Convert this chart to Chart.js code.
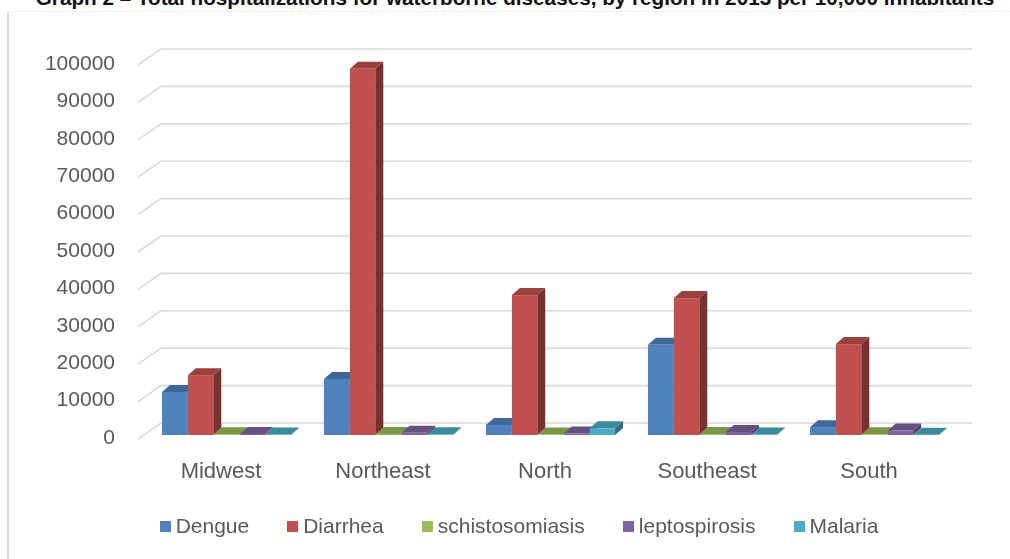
<!doctype html>
<html lang="en">
  <head>
    <meta charset="utf-8">
    <title>Hospitalizations for waterborne diseases</title>
    <style>
      * {
        margin: 0;
        padding: 0;
      }
      body {
        width: 1010px;
        height: 559px;
        overflow: hidden;
        position: relative;
        background: #fff;
        font-family: "Liberation Sans", sans-serif;
      }
      .title {
        position: absolute;
        top: -11px;
        left: 10px;
        width: 1010px;
        text-align: center;
        font-weight: bold;
        font-size: 20.7px;
        line-height: 17px;
        color: #111;
        white-space: nowrap;
      }
      #myChart {
        position: absolute;
        left: 0;
        top: 0;
      }
      .legend {
        position: absolute;
        left: 0;
        width: 1038px;
        top: 514px;
        display: flex;
        justify-content: center;
        gap: 38px;
        font-size: 21px;
        color: #595959;
      }
      .legend span.item {
        display: flex;
        align-items: center;
      }
      .legend span.box {
        display: inline-block;
        width: 11px;
        height: 11px;
        margin-right: 5px;
      }
    </style>
  </head>
  <body>
    <div class="title">Graph 2 – Total hospitalizations for waterborne diseases, by region in 2013 per 10,000 inhabitants</div>
    <canvas id="myChart" width="1010" height="559"></canvas>
    <div class="legend" id="legend"></div>

    <script src="https://cdn.jsdelivr.net/npm/chart.js/dist/chart.umd.min.js"></script>
    <script>
    // data
    const regions = ['Midwest', 'Northeast', 'North', 'Southeast', 'South'];
    const dengue = [11500, 15000, 2700, 24100, 2100];
    const diarrhea = [16000, 97900, 37400, 36600, 24300];
    const schistosomiasis = [200, 300, 150, 250, 200];
    const leptospirosis = [300, 600, 400, 800, 1200];
    const malaria = [150, 200, 1800, 150, 100];
    const yTicks = [0, 10000, 20000, 30000, 40000, 50000, 60000, 70000, 80000, 90000, 100000];

    const seriesNames = ['Dengue', 'Diarrhea', 'schistosomiasis', 'leptospirosis', 'Malaria'];
    const seriesValues = [dengue, diarrhea, schistosomiasis, leptospirosis, malaria];
    const colors = ['#4F81BD', '#C0504D', '#9BBB59', '#8064A2', '#4BACC6'];

    function shade(hex, f) {
      const n = parseInt(hex.slice(1), 16);
      const r = Math.round(((n >> 16) & 255) * f);
      const g = Math.round(((n >> 8) & 255) * f);
      const b = Math.round((n & 255) * f);
      return 'rgb(' + r + ',' + g + ',' + b + ')';
    }

    // gridlines with a slanted floor edge + 3d bars
    const fake3d = {
      id: 'fake3d',
      beforeDraw(chart) {
        const ctx = chart.ctx;
        ctx.save();
        ctx.strokeStyle = '#d9d9d9';
        ctx.lineWidth = 2;
        ctx.beginPath();
        ctx.moveTo(8, 12);
        ctx.lineTo(8, 559);
        ctx.stroke();
        ctx.strokeStyle = '#eeeeee';
        ctx.lineWidth = 1;
        ctx.beginPath();
        ctx.moveTo(8, 11.5);
        ctx.lineTo(1010, 11.5);
        ctx.stroke();
        ctx.restore();
      },
      beforeDatasetsDraw(chart) {
        const ctx = chart.ctx;
        const y = chart.scales.y;
        ctx.save();
        ctx.strokeStyle = '#d9d9d9';
        ctx.lineWidth = 1.6;
        yTicks.forEach(v => {
          const yf = y.getPixelForValue(v);
          ctx.beginPath();
          ctx.moveTo(138, yf + 1);
          ctx.lineTo(161, yf - 15);
          ctx.lineTo(972, yf - 15);
          ctx.stroke();
        });

        const dx = 8, dy = -7, sx = 5.5, sy = -3;
        for (let j = 0; j < regions.length; j++) {
          for (let i = 0; i < seriesValues.length; i++) {
            const el = chart.getDatasetMeta(i).data[j];
            const x0 = el.x - el.width / 2 + sx;
            const x1 = el.x + el.width / 2 + sx;
            const yt = el.y + sy;
            const yb = el.base + sy;
            const c = colors[i];
            // side
            ctx.fillStyle = shade(c, 0.62);
            ctx.beginPath();
            ctx.moveTo(x1, yt);
            ctx.lineTo(x1 + dx, yt + dy);
            ctx.lineTo(x1 + dx, yb + dy);
            ctx.lineTo(x1, yb);
            ctx.closePath();
            ctx.fill();
            // top
            ctx.fillStyle = shade(c, 0.8);
            ctx.beginPath();
            ctx.moveTo(x0, yt);
            ctx.lineTo(x1, yt);
            ctx.lineTo(x1 + dx, yt + dy);
            ctx.lineTo(x0 + dx, yt + dy);
            ctx.closePath();
            ctx.fill();
            // front
            ctx.fillStyle = c;
            ctx.fillRect(x0, yt, x1 - x0, yb - yt);
          }
        }
        ctx.restore();
        return false;
      }
    };

    const data = {
      labels: regions,
      datasets: seriesNames.map((name, i) => ({
        label: name,
        data: seriesValues[i],
        backgroundColor: colors[i],
        categoryPercentage: 0.8,
        barPercentage: 0.98
      }))
    };

    const config = {
      type: 'bar',
      data,
      options: {
        responsive: false,
        animation: false,
        layout: {
          padding: { left: 0, right: 60, top: 64, bottom: 0 }
        },
        plugins: {
          legend: { display: false },
          tooltip: { enabled: false }
        },
        scales: {
          x: {
            grid: { display: false },
            border: { display: false },
            ticks: {
              color: '#595959',
              font: { family: 'Liberation Sans', size: 22 },
              padding: 13
            },
            afterFit(scale) { scale.height = 121; }
          },
          y: {
            min: 0,
            max: 100000,
            afterBuildTicks(scale) {
              scale.ticks = yTicks.map(v => ({ value: v }));
            },
            grid: { display: false, drawTicks: false },
            border: { display: false },
            ticks: {
              color: '#595959',
              font: { family: 'Liberation Sans', size: 21 },
              padding: 25,
              callback: v => String(v)
            },
            afterFit(scale) { scale.width = 140; }
          }
        }
      },
      plugins: [fake3d]
    };

    new Chart(document.getElementById('myChart'), config);

    // legend
    const legend = document.getElementById('legend');
    seriesNames.forEach((name, i) => {
      const item = document.createElement('span');
      item.className = 'item';
      const box = document.createElement('span');
      box.className = 'box';
      box.style.background = colors[i];
      item.appendChild(box);
      item.appendChild(document.createTextNode(name));
      legend.appendChild(item);
    });
    </script>
  </body>
</html>
